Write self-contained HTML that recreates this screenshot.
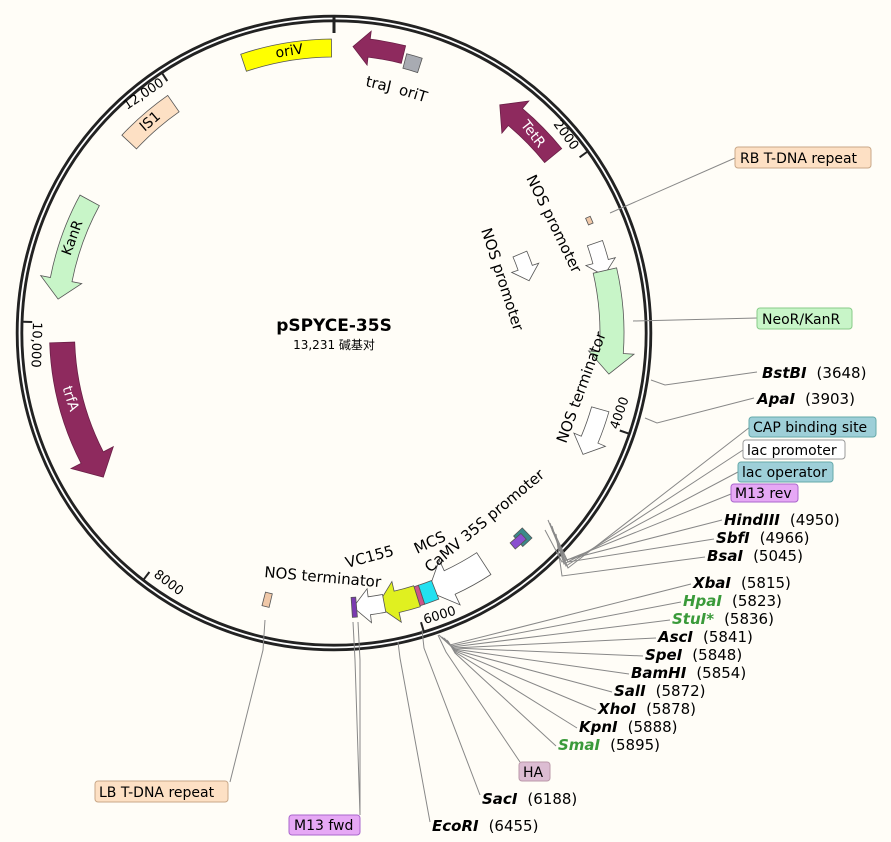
<!DOCTYPE html>
<html><head><meta charset="utf-8"><style>
html,body{margin:0;padding:0;background:#fffdf7;}
svg{display:block;font-family:"DejaVu Sans","Liberation Sans","Noto Sans CJK SC",sans-serif;}
.e{font-weight:bold;font-style:italic;font-size:15px;}
.n{font-size:15px;}
.b{font-size:14px;}
.g{fill:#3a9a3a;}
.l{stroke:#888;stroke-width:1;fill:none;}
.ft{font-size:13px;}
</style></head><body>
<svg id="s" width="891" height="842" viewBox="0 0 891 842" xmlns="http://www.w3.org/2000/svg">
<circle cx="334" cy="333" r="314.5" fill="none" stroke="#222" stroke-width="7.5"/>
<circle cx="334" cy="333" r="314.5" fill="none" stroke="#fff" stroke-width="1.8"/>
<line x1="334" y1="16" x2="334" y2="33" stroke="#222" stroke-width="3"/>
<g id="feat"></g>
<text x="334" y="331" text-anchor="middle" font-weight="bold" font-size="17">pSPYCE-35S</text>
<text x="334" y="349" text-anchor="middle" font-size="12">13,231 碱基对</text>
<text class="ft" transform="translate(553,124) rotate(54)">2000</text>
<text class="ft" transform="translate(618,430) rotate(-71)">4000</text>
<text class="ft" transform="translate(425,624) rotate(-17)">6000</text>
<text class="ft" transform="translate(153,576) rotate(37)">8000</text>
<text class="ft" transform="translate(33,322) rotate(92)">10,000</text>
<text class="ft" transform="translate(127,110) rotate(-34)">12,000</text>
<text class="n" transform="translate(365,86) rotate(13)">traJ</text>
<text class="n" transform="translate(398,94) rotate(17)">oriT</text>
<text class="n" transform="translate(526,178) rotate(64)">NOS promoter</text>
<text class="n" transform="translate(481,230) rotate(72)">NOS promoter</text>
<text class="n" transform="translate(566,444) rotate(-70)">NOS terminator</text>
<text class="n" transform="translate(430,573) rotate(-40)">CaMV 35S promoter</text>
<text class="n" transform="translate(417,554) rotate(-25)">MCS</text>
<text class="n" transform="translate(347,568) rotate(-15)">VC155</text>
<text class="n" transform="translate(264,577) rotate(5)">NOS terminator</text>
<polyline class="l" points="610,213 735,158"/>
<polyline class="l" points="633,321 757,318"/>
<polyline class="l" points="651,380 665,385 757,372"/>
<polyline class="l" points="645,418 657,423 754,398"/>
<polyline class="l" points="548,520 568,568 750,427"/>
<polyline class="l" points="550,523 566,566 743,450"/>
<polyline class="l" points="552,526 564,564 738,472"/>
<polyline class="l" points="545,530 562,562 731,494"/>
<polyline class="l" points="552,530 566,560 722,520"/>
<polyline class="l" points="554,532 568,562 714,539"/>
<polyline class="l" points="556,534 562,576 705,557"/>
<polyline class="l" points="439,635 450,645 691,584"/>
<polyline class="l" points="440,636 451,646 681,602"/>
<polyline class="l" points="441,637 452,647 670,620"/>
<polyline class="l" points="442,637 453,648 656,638"/>
<polyline class="l" points="443,638 454,648 643,656"/>
<polyline class="l" points="444,638 454,649 629,674"/>
<polyline class="l" points="445,639 455,650 612,692"/>
<polyline class="l" points="446,640 455,651 596,710"/>
<polyline class="l" points="447,640 455,652 577,728"/>
<polyline class="l" points="448,641 455,653 556,746"/>
<polyline class="l" points="438,635 446,652 520,762"/>
<polyline class="l" points="422,630 424,648 480,795"/>
<polyline class="l" points="398,642 400,658 430,822"/>
<polyline class="l" points="353,622 355,660 360,815"/>
<polyline class="l" points="358,622 360,660 360,815"/>
<polyline class="l" points="265,620 263,650 230,782"/>
<rect x="735" y="147" width="136" height="21" rx="3" fill="#fde0c4" stroke="#c9a888"/>
<text class="b" x="740" y="163">RB T-DNA repeat</text>
<rect x="757" y="308" width="95" height="21" rx="3" fill="#c8f5c8" stroke="#8c8"/>
<text class="b" x="762" y="324">NeoR/KanR</text>
<text x="762" y="378"><tspan class="e">BstBI</tspan><tspan class="n" dx="10">(3648)</tspan></text>
<text x="757" y="404"><tspan class="e">ApaI</tspan><tspan class="n" dx="10">(3903)</tspan></text>
<rect x="749" y="417" width="127" height="20" rx="3" fill="#9ecfd8" stroke="#6aa"/>
<text class="b" x="753" y="432">CAP binding site</text>
<rect x="743" y="440" width="102" height="19" rx="3" fill="#fff" stroke="#999"/>
<text class="b" x="747" y="455">lac promoter</text>
<rect x="738" y="462" width="95" height="20" rx="3" fill="#9ecfd8" stroke="#6aa"/>
<text class="b" x="742" y="477">lac operator</text>
<rect x="731" y="484" width="67" height="18" rx="3" fill="#e6a8f5" stroke="#a6c"/>
<text class="b" x="735" y="498">M13 rev</text>
<text x="724" y="525"><tspan class="e">HindIII</tspan><tspan class="n" dx="10">(4950)</tspan></text>
<text x="716" y="543"><tspan class="e">SbfI</tspan><tspan class="n" dx="10">(4966)</tspan></text>
<text x="707" y="561"><tspan class="e">BsaI</tspan><tspan class="n" dx="10">(5045)</tspan></text>
<text x="693" y="588"><tspan class="e">XbaI</tspan><tspan class="n" dx="10">(5815)</tspan></text>
<text x="683" y="606"><tspan class="e g">HpaI</tspan><tspan class="n" dx="10">(5823)</tspan></text>
<text x="672" y="624"><tspan class="e g">StuI*</tspan><tspan class="n" dx="10">(5836)</tspan></text>
<text x="658" y="642"><tspan class="e">AscI</tspan><tspan class="n" dx="10">(5841)</tspan></text>
<text x="645" y="660"><tspan class="e">SpeI</tspan><tspan class="n" dx="10">(5848)</tspan></text>
<text x="631" y="678"><tspan class="e">BamHI</tspan><tspan class="n" dx="10">(5854)</tspan></text>
<text x="614" y="696"><tspan class="e">SalI</tspan><tspan class="n" dx="10">(5872)</tspan></text>
<text x="598" y="714"><tspan class="e">XhoI</tspan><tspan class="n" dx="10">(5878)</tspan></text>
<text x="579" y="732"><tspan class="e">KpnI</tspan><tspan class="n" dx="10">(5888)</tspan></text>
<text x="558" y="750"><tspan class="e g">SmaI</tspan><tspan class="n" dx="10">(5895)</tspan></text>
<rect x="519" y="762" width="31" height="19" rx="3" fill="#dcbcd2" stroke="#b9a"/>
<text class="b" x="523" y="777">HA</text>
<text x="482" y="804"><tspan class="e">SacI</tspan><tspan class="n" dx="10">(6188)</tspan></text>
<text x="432" y="831"><tspan class="e">EcoRI</tspan><tspan class="n" dx="10">(6455)</tspan></text>
<rect x="289" y="815" width="71" height="20" rx="3" fill="#e6a8f5" stroke="#a6c"/>
<text class="b" x="294" y="830">M13 fwd</text>
<rect x="95" y="781" width="133" height="21" rx="3" fill="#fde0c4" stroke="#c9a888"/>
<text class="b" x="99" y="797">LB T-DNA repeat</text>
</svg>
<script>
var cx=334,cy=333,NS="http://www.w3.org/2000/svg";
function P(a,r){var t=a*Math.PI/180;return [(cx+r*Math.sin(t)).toFixed(1),(cy-r*Math.cos(t)).toFixed(1)];}
function add(tag,at,txt){var e=document.createElementNS(NS,tag);for(var k in at)e.setAttribute(k,at[k]);if(txt)e.textContent=txt;document.getElementById('feat').appendChild(e);return e;}
function feat(a1,a2,r,w,dir,fill,stroke){
 var ro=r+w/2,ri=r-w/2,hw=w*0.45,hl=(w*0.9)/r*180/Math.PI,d;
 function arc(a,b,rr){var p=P(b,rr);var large=Math.abs(b-a)>180?1:0;return "A"+rr+","+rr+" 0 "+large+","+(b>a?1:0)+" "+p[0]+","+p[1];}
 if(dir==0){var p1=P(a1,ro),p2=P(a2,ri);
  d="M"+p1+arc(a1,a2,ro)+"L"+p2+arc(a2,a1,ri)+"Z";}
 else if(dir==1){var b=a2-hl;if(b<a1)b=a1;
  d="M"+P(a1,ro)+arc(a1,b,ro)+"L"+P(b,ro+hw)+"L"+P(a2,r)+"L"+P(b,ri-hw)+"L"+P(b,ri)+arc(b,a1,ri)+"Z";}
 else{var b=a1+hl;if(b>a2)b=a2;
  d="M"+P(a2,ro)+arc(a2,b,ro)+"L"+P(b,ro+hw)+"L"+P(a1,r)+"L"+P(b,ri-hw)+"L"+P(b,ri)+arc(b,a2,ri)+"Z";}
 add('path',{d:d,fill:fill,stroke:stroke||'#555','stroke-width':0.8});
}
function lab(a,r,txt,col,rot){var p=P(a,r);add('text',{x:p[0],y:p[1],'text-anchor':'middle','dominant-baseline':'central','font-size':14,fill:col||'#000',transform:'rotate('+rot+' '+p[0]+','+p[1]+')'},txt);}
[2000,4000,6000,8000,10000,12000].forEach(function(v){var a=v/13231*360;var p1=P(a,311),p2=P(a,302);add('line',{x1:p1[0],y1:p1[1],x2:p2[0],y2:p2[1],stroke:'#222','stroke-width':2});});
feat(-18.5,-0.5,285,18,0,'#ffff00');lab(-9,285,'oriV','#000',-9);
feat(3.8,14,287,18,-1,'#8e2a5e','#6a1f46');
feat(14.6,17.8,281,15,0,'#a8abb2');
feat(36,51,282,22,-1,'#8e2a5e','#6a1f46');lab(45,281,'TetR','#fff',52);
feat(65.5,67,279,5,0,'#f0c8a8');
feat(71,78,276,16,1,'#fff');
feat(77,98.5,278,24,1,'#c8f5c8');
feat(106,116,277,18,1,'#fff');
feat(67,75,202,15,1,'#fff');
feat(136,138.5,278,14,0,'#3a8a8a');feat(137,140,278,8,0,'#8a4fd0');
feat(147,160,275,26,1,'#fff');
feat(158.5,161.5,276,20,0,'#22e0f0');feat(161.5,162.5,276,20,0,'#c58');
feat(162.5,171,276,22,1,'#e0f020');
feat(169.5,176,275,18,1,'#fff');
feat(175.3,176.3,275,20,0,'#7a3ab0');
feat(193.3,194.8,275,14,0,'#f0c8a8');
feat(238,268,272,25,-1,'#8e2a5e','#6a1f46');lab(256,272,'trfA','#fff',72);
feat(277,298.5,278,22,-1,'#c8f5c8');lab(290,278,'KanR','#000',-70);
feat(313,325,280,20,0,'#fde0c4');lab(319,280,'IS1','#000',-41);
</script>
</body></html>
